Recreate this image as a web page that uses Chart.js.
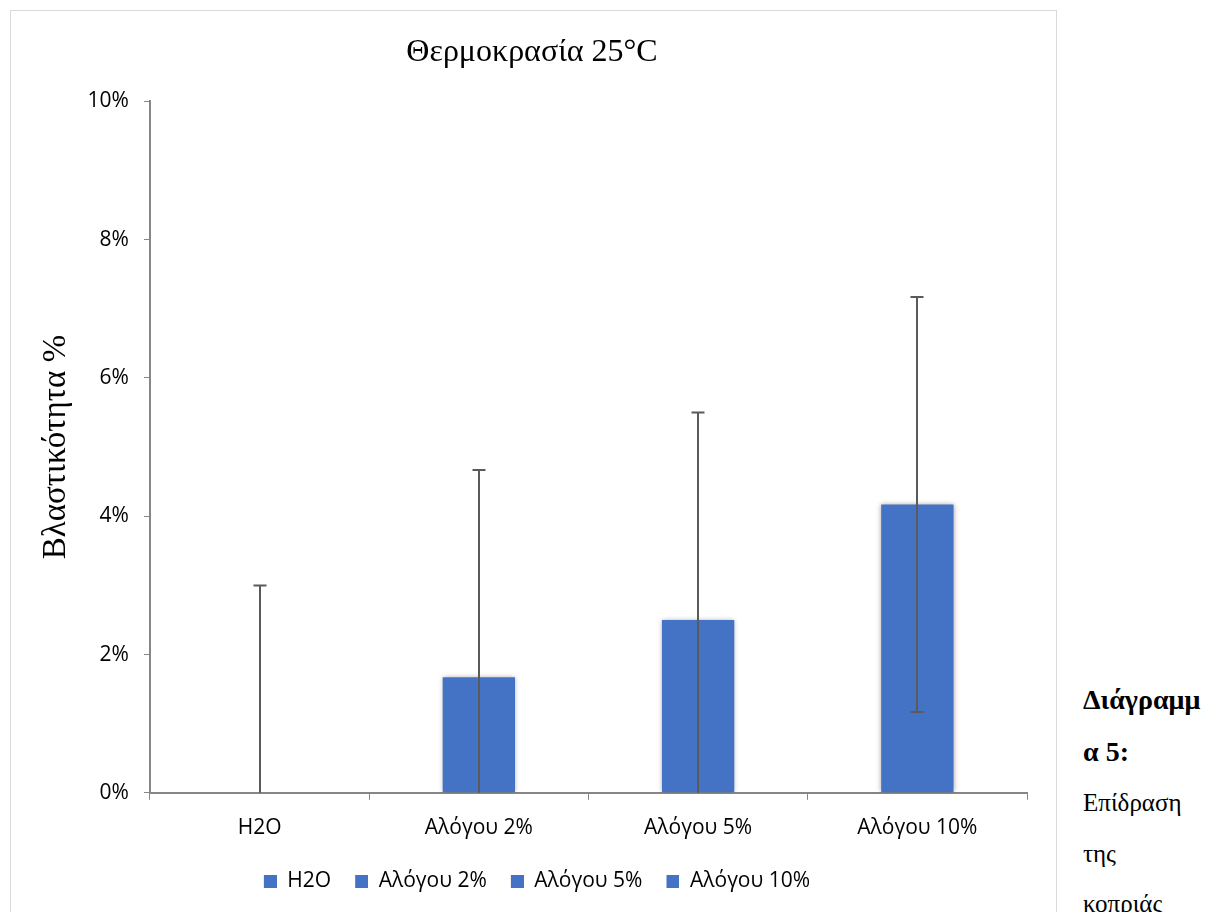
<!DOCTYPE html>
<html>
<head>
<meta charset="utf-8">
<script src="https://cdn.jsdelivr.net/npm/chart.js@4"></script>
<style>
  body { margin: 0; background: #fff; width: 1208px; height: 912px; overflow: hidden; position: relative; }
  #box { position: absolute; left: 10px; top: 10px; width: 1047px; height: 910px; border: 1px solid #d9d9d9; box-sizing: border-box; }
  #side { position: absolute; left: 1083px; top: 675px; font-family: "Liberation Serif", serif; font-size: 25px; line-height: 50.5px; color: #000; }
  #side b { font-weight: bold; font-size: 28px; }
</style>
</head>
<body>
<div id="box"><canvas id="chart" width="1045" height="908"></canvas></div>
<div id="side"><b>Διάγραμμ<br>α 5:</b><br>Επίδραση<br>της<br>κοπριάς</div>
<script>
// ---- data ----
const categories = ['H2O', 'Αλόγου 2%', 'Αλόγου 5%', 'Αλόγου 10%'];
const values = [0, 0.0167, 0.025, 0.0417];
const errPlus = [0.03, 0.03, 0.03, 0.03];
const errMinus = [0.03, 0.03, 0.03, 0.03];
const yTicks = [0, 0.02, 0.04, 0.06, 0.08, 0.10];

const barColor = '#4472c4';
const axisColor = '#868686';
const fontSans = '"Open Sans", sans-serif';
const fontSerif = '"Liberation Serif", serif';

// legend marker: blue square with some empty room in front (spacing between items)
const markerGap = 10;
const markerSize = 13;
const marker = document.createElement('canvas');
marker.width = markerGap + markerSize;
marker.height = markerSize;
const mctx = marker.getContext('2d');
mctx.fillStyle = barColor;
mctx.fillRect(markerGap, 0, markerSize, markerSize);

// error bars drawn from the arrays via the chart scales
const errorBars = {
    id: 'errorBars',
    afterDatasetsDraw(chart) {
        const ctx = chart.ctx;
        const meta = chart.getDatasetMeta(0);
        const y = chart.scales.y;
        ctx.save();
        ctx.strokeStyle = '#5a5a5a';
        ctx.lineWidth = 2;
        meta.data.forEach((bar, i) => {
            const x = Math.round(bar.x);
            const hiVal = values[i] + errPlus[i];
            const loVal = values[i] - errMinus[i];
            const top = y.getPixelForValue(hiVal);
            const bottom = y.getPixelForValue(Math.max(loVal, 0));
            ctx.beginPath();
            ctx.moveTo(x, top);
            ctx.lineTo(x, bottom);
            ctx.moveTo(x - 6.5, top);
            ctx.lineTo(x + 6.5, top);
            if (loVal > 0) {
                ctx.moveTo(x - 6.5, bottom);
                ctx.lineTo(x + 6.5, bottom);
            }
            ctx.stroke();
        });
        ctx.restore();
    }
};

const barShadow = {
    id: 'barShadow',
    beforeDatasetDraw(chart) {
        const ctx = chart.ctx;
        ctx.save();
        ctx.shadowColor = 'rgba(0,0,0,0.35)';
        ctx.shadowBlur = 5;
    },
    afterDatasetDraw(chart) {
        chart.ctx.restore();
    }
};

const ctxC = document.getElementById('chart').getContext('2d');
const chart = new Chart(ctxC, {
    type: 'bar',
    data: {
        labels: categories,
        datasets: [{
            label: 'Βλαστικότητα',
            data: values,
            backgroundColor: barColor,
            borderWidth: 0,
            categoryPercentage: 1,
            barPercentage: 0.33
        }]
    },
    options: {
        responsive: false,
        animation: false,
        layout: { padding: { left: 26, right: 29, top: 0, bottom: 17 } },
        plugins: {
            tooltip: { enabled: false },
            title: {
                display: true,
                text: 'Θερμοκρασία 25°C',
                color: '#000',
                font: { family: fontSerif, size: 32, weight: 'normal' },
                padding: { top: 22, bottom: 30 }
            },
            legend: {
                position: 'bottom',
                labels: {
                    color: '#000',
                    font: { family: fontSans, size: 21 },
                    usePointStyle: true,
                    pointStyleWidth: markerGap + markerSize,
                    boxHeight: markerSize,
                    padding: 14,
                    generateLabels() {
                        return categories.map((c, i) => ({
                            text: c,
                            fillStyle: barColor,
                            strokeStyle: barColor,
                            lineWidth: 0,
                            pointStyle: marker,
                            index: i,
                            datasetIndex: 0
                        }));
                    }
                }
            }
        },
        scales: {
            x: {
                grid: { display: true, drawOnChartArea: false, color: axisColor, tickLength: 7, offset: true },
                border: { color: axisColor, width: 2 },
                ticks: { color: '#000', font: { family: fontSans, size: 21 }, padding: 16 }
            },
            y: {
                min: 0,
                max: 0.10,
                afterBuildTicks(axis) { axis.ticks = yTicks.map(v => ({ value: v })); },
                grid: { display: true, drawOnChartArea: false, color: axisColor, tickLength: 6 },
                border: { color: axisColor, width: 2 },
                ticks: {
                    color: '#000',
                    font: { family: fontSans, size: 21 },
                    padding: 15,
                    callback: v => Math.round(v * 100) + '%'
                },
                title: {
                    display: true,
                    text: 'Βλαστικότητα %',
                    color: '#000',
                    font: { family: fontSerif, size: 33, weight: 'normal' },
                    padding: { top: 0, bottom: -4 }
                }
            }
        }
    },
    plugins: [barShadow, errorBars]
});
</script>
</body>
</html>
